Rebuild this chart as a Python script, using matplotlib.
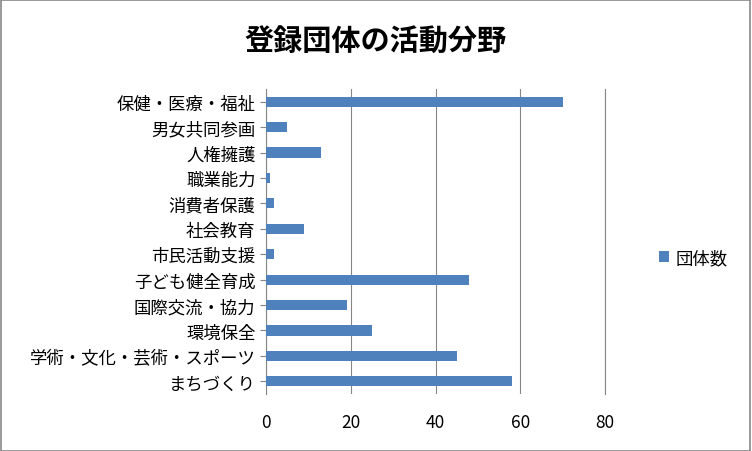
import matplotlib
matplotlib.use("Agg")
import matplotlib.pyplot as plt
from matplotlib.patches import Rectangle

plt.rcParams['font.family'] = ['Noto Sans CJK JP']

categories = ["保健・医療・福祉", "男女共同参画", "人権擁護", "職業能力", "消費者保護", "社会教育",
              "市民活動支援", "子ども健全育成", "国際交流・協力", "環境保全", "学術・文化・芸術・スポーツ", "まちづくり"]
values = [70, 5, 13, 1, 2, 9, 2, 48, 19, 25, 45, 58]
xticks = [0, 20, 40, 60, 80]

fig = plt.figure(figsize=(7.52, 4.52), dpi=100)
fig.patches.append(Rectangle((0.001, 0.001), 0.997, 0.997, transform=fig.transFigure,
                             fill=False, edgecolor='#878787', linewidth=1.2))
ax = fig.add_axes([266/752, 1-395/452, (605-266)/752, (395-90)/452])
y = list(range(len(categories)))[::-1]
ax.barh(y, values, height=0.4, color='#4F81BD', label='団体数', zorder=3)
ax.set_xlim(0, 80)
ax.set_ylim(-0.5, len(categories)-0.5)
ax.set_xticks(xticks)
ax.set_xticklabels([str(t) for t in xticks], fontsize=12.5)
ax.set_yticks(y)
ax.set_yticklabels(categories, fontsize=12.5)
ax.grid(axis='x', color='#868686', linewidth=0.8, zorder=0)
ax.axvline(80, color='#868686', linewidth=0.8, clip_on=False, zorder=0)
for s in ['top', 'right', 'bottom']:
    ax.spines[s].set_visible(False)
ax.spines['left'].set_color('#868686')
ax.tick_params(axis='x', length=0, pad=14)
ax.tick_params(axis='y', length=4, color='#868686')
fig.text(0.5, 1-42/452, "登録団体の活動分野", ha='center', va='center', fontsize=21, fontweight='bold')
fig.legend(loc='center left', bbox_to_anchor=(643/752, 1-259/452), frameon=False, fontsize=12.5,
           handlelength=0.6, handleheight=0.6, handletextpad=0.4)
fig.savefig("out.png", dpi=100)
